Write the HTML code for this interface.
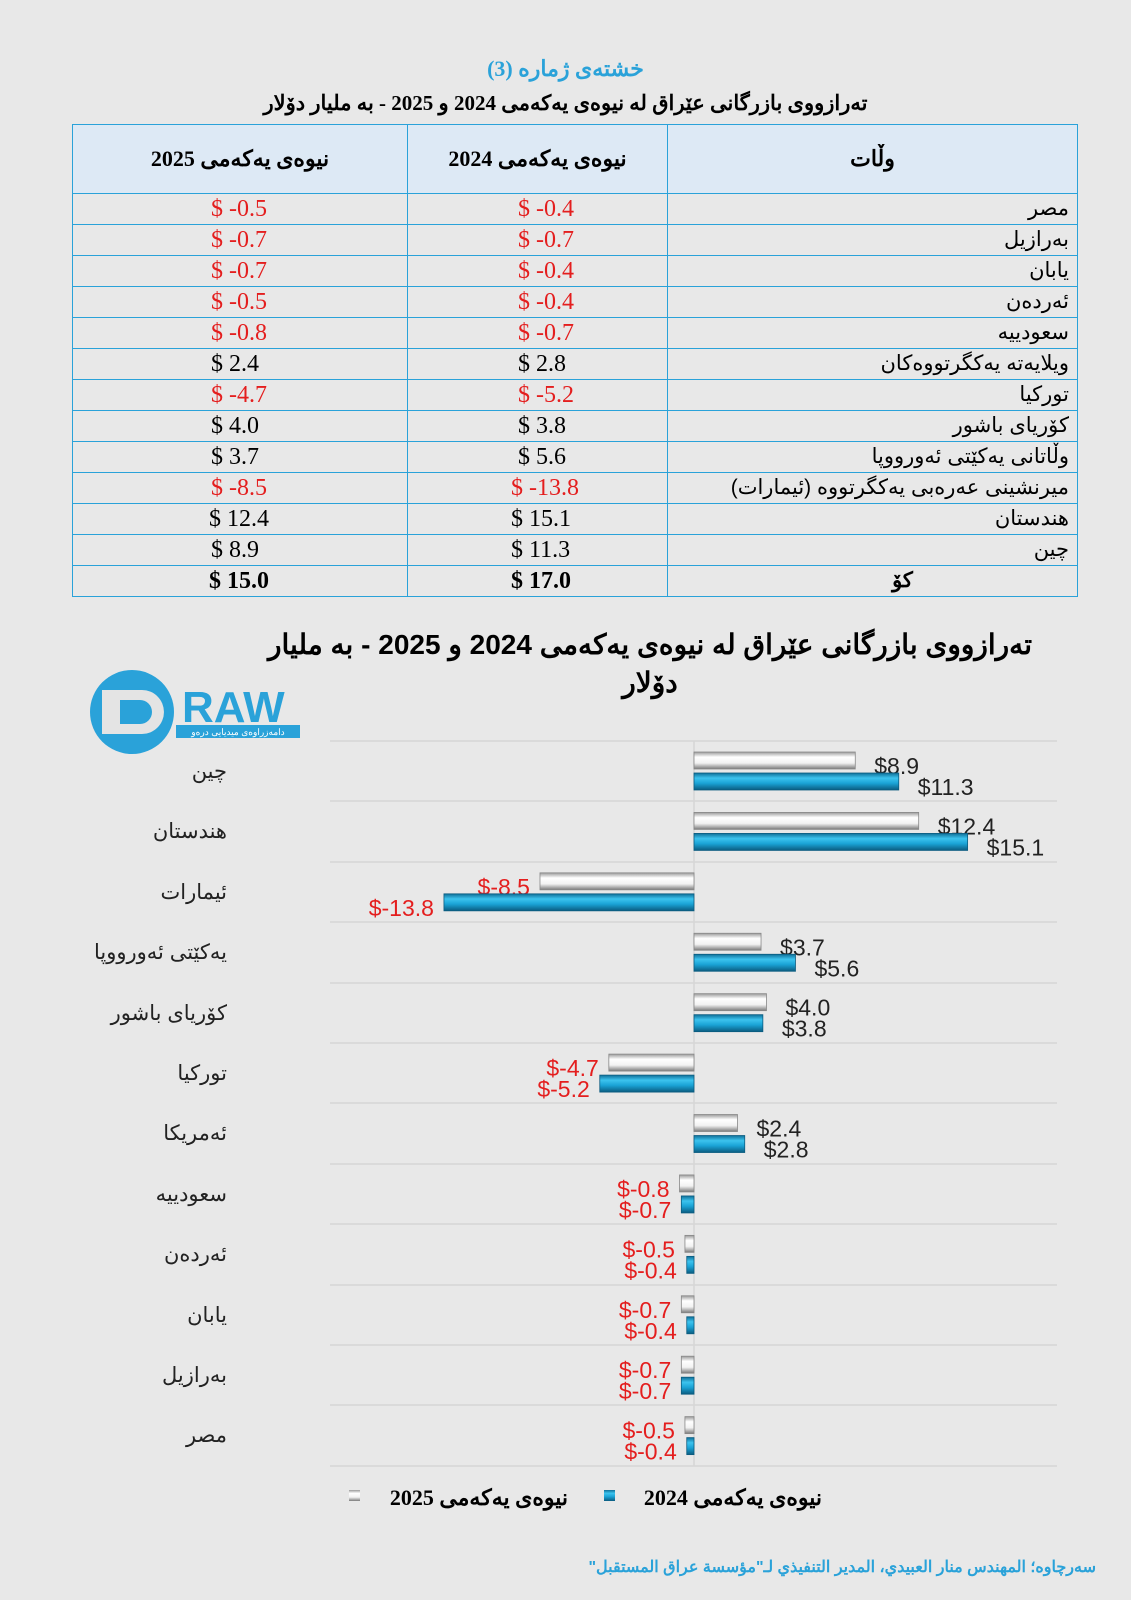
<!DOCTYPE html>
<html><head><meta charset="utf-8">
<style>
body{margin:0;width:1131px;height:1600px;background:#e8e8e8;position:relative;overflow:hidden;font-family:"Liberation Serif","Noto Sans CJK SC",serif}
.t1{position:absolute;left:0;width:1131px;top:56px;text-align:center;color:#2aa2d9;font-weight:bold;font-size:22px;direction:rtl}
.t2{position:absolute;left:0;width:1131px;top:91px;text-align:center;color:#000;font-weight:bold;font-size:21px;direction:rtl}
table{position:absolute;left:72px;top:124px;width:1005px;border-collapse:collapse;direction:rtl;table-layout:fixed}
td{border:1.5px solid #2aa2d9;padding:0;font-size:24px;height:30px;line-height:30px}
th{border:1.5px solid #2aa2d9;background:#dde9f5;height:66px;font-size:22px;font-weight:bold}
td.c{text-align:right;padding-right:8px;font-size:21px;font-family:"Liberation Sans","Noto Sans CJK SC",sans-serif}
td span{direction:ltr;unicode-bidi:bidi-override;display:inline-block}
td.v{text-align:left;padding-left:110px}
td.v2{text-align:left;padding-left:138px}
.r{color:#e41e1e}
</style></head><body>
<div class="t1">خشتەی ژمارە (3)</div>
<div class="t2">تەرازووی بازرگانی عێراق لە نیوەی یەکەمی 2024 و 2025 - بە ملیار دۆلار</div>
<table>
<colgroup><col style="width:410px"><col style="width:260px"><col style="width:335px"></colgroup>
<tr><th>وڵات</th><th>نیوەی یەکەمی 2024</th><th>نیوەی یەکەمی 2025</th></tr>
<tr><td class="c">مصر</td><td class="v r"><span>$ -0.4</span></td><td class="v2 r"><span>$ -0.5</span></td></tr>
<tr><td class="c">بەرازیل</td><td class="v r"><span>$ -0.7</span></td><td class="v2 r"><span>$ -0.7</span></td></tr>
<tr><td class="c">یابان</td><td class="v r"><span>$ -0.4</span></td><td class="v2 r"><span>$ -0.7</span></td></tr>
<tr><td class="c">ئەردەن</td><td class="v r"><span>$ -0.4</span></td><td class="v2 r"><span>$ -0.5</span></td></tr>
<tr><td class="c">سعودییە</td><td class="v r"><span>$ -0.7</span></td><td class="v2 r"><span>$ -0.8</span></td></tr>
<tr><td class="c">ویلایەتە یەکگرتووەکان</td><td class="v"><span>$ 2.8</span></td><td class="v2"><span>$ 2.4</span></td></tr>
<tr><td class="c">تورکیا</td><td class="v r"><span>$ -5.2</span></td><td class="v2 r"><span>$ -4.7</span></td></tr>
<tr><td class="c">کۆریای باشور</td><td class="v"><span>$ 3.8</span></td><td class="v2"><span>$ 4.0</span></td></tr>
<tr><td class="c">وڵاتانی یەکێتی ئەورووپا</td><td class="v"><span>$ 5.6</span></td><td class="v2"><span>$ 3.7</span></td></tr>
<tr><td class="c">میرنشینی عەرەبی یەکگرتووە (ئیمارات)</td><td class="v r" style="padding-left:103px"><span>$ -13.8</span></td><td class="v2 r"><span>$ -8.5</span></td></tr>
<tr><td class="c">هندستان</td><td class="v" style="padding-left:103px"><span>$ 15.1</span></td><td class="v2" style="padding-left:136px"><span>$ 12.4</span></td></tr>
<tr><td class="c">چین</td><td class="v" style="padding-left:103px"><span>$ 11.3</span></td><td class="v2"><span>$ 8.9</span></td></tr>
<tr><td class="c" style="text-align:center;font-weight:bold;padding:0 0 0 60px">کۆ</td><td class="v" style="padding-left:103px;font-weight:bold"><span>$ 17.0</span></td><td class="v2" style="padding-left:136px;font-weight:bold"><span>$ 15.0</span></td></tr>
</table>

<svg width="1131" height="1600" style="position:absolute;left:0;top:0" xmlns="http://www.w3.org/2000/svg">
<defs>
<linearGradient id="bl" x1="0" y1="0" x2="0" y2="1"><stop offset="0" stop-color="#0f6f98"/><stop offset="0.3" stop-color="#3cc3ee"/><stop offset="0.6" stop-color="#1aa3d6"/><stop offset="1" stop-color="#0b5c80"/></linearGradient>
<linearGradient id="wh" x1="0" y1="0" x2="0" y2="1"><stop offset="0" stop-color="#9a9a9a"/><stop offset="0.3" stop-color="#ffffff"/><stop offset="0.65" stop-color="#f2f2f2"/><stop offset="1" stop-color="#7a7a7a"/></linearGradient>
</defs>
<g font-family="Liberation Sans, Noto Sans CJK SC, sans-serif" font-weight="bold" font-size="28" text-anchor="middle">
<text x="650" y="654">تەرازووی بازرگانی عێراق لە نیوەی یەکەمی 2024 و 2025 - بە ملیار</text>
<text x="650" y="692">دۆلار</text>
</g>
<circle cx="132" cy="712" r="42" fill="#2aa2d9"/>
<path d="M102 690 h40 a22 22 0 0 1 0 44 h-40z" fill="#e4e4e4"/>
<path d="M120 700 h20 a12 12 0 0 1 0 24 h-20z" fill="#2aa2d9"/>
<text x="182" y="722" font-family="Liberation Sans,sans-serif" font-weight="bold" font-size="44" fill="#2aa2d9">RAW</text>
<rect x="176" y="725" width="124" height="13" fill="#2aa2d9"/>
<text x="238" y="735" font-size="9" fill="#fff" text-anchor="middle" font-family="Liberation Sans,sans-serif">دامەزراوەی میدیایی درەو</text>
<g stroke="#d6d6d6" stroke-width="1.5">
<line x1="330" x2="1057" y1="741" y2="741"/><line x1="330" x2="1057" y1="801" y2="801"/><line x1="330" x2="1057" y1="862" y2="862"/><line x1="330" x2="1057" y1="922" y2="922"/><line x1="330" x2="1057" y1="983" y2="983"/><line x1="330" x2="1057" y1="1043" y2="1043"/><line x1="330" x2="1057" y1="1103" y2="1103"/><line x1="330" x2="1057" y1="1164" y2="1164"/><line x1="330" x2="1057" y1="1224" y2="1224"/><line x1="330" x2="1057" y1="1285" y2="1285"/><line x1="330" x2="1057" y1="1345" y2="1345"/><line x1="330" x2="1057" y1="1405" y2="1405"/><line x1="330" x2="1057" y1="1466" y2="1466"/>
<line x1="694" x2="694" y1="741" y2="1466"/>
</g>
<g id="bars"></g>
<g font-family="Liberation Sans, Noto Sans CJK SC, sans-serif" font-size="21" text-anchor="end" fill="#222">
<text x="227" y="778">چین</text><text x="227" y="838">هندستان</text><text x="227" y="899">ئیمارات</text><text x="227" y="959">یەکێتی ئەورووپا</text><text x="227" y="1020">کۆریای باشور</text><text x="227" y="1080">تورکیا</text><text x="227" y="1140">ئەمریکا</text><text x="227" y="1201">سعودییە</text><text x="227" y="1261">ئەردەن</text><text x="227" y="1322">یابان</text><text x="227" y="1382">بەرازیل</text><text x="227" y="1442">مصر</text>
</g>
<rect x="349" y="1490" width="11" height="11" fill="url(#wh)"/>
<rect x="604" y="1490" width="11" height="11" fill="url(#bl)"/>
<g font-family="Liberation Serif, Noto Sans CJK SC, serif" font-weight="bold" font-size="22" text-anchor="end">
<text x="568" y="1505">نیوەی یەکەمی 2025</text>
<text x="822" y="1505">نیوەی یەکەمی 2024</text>
</g>
<text x="1096" y="1572" direction="rtl" text-anchor="start" font-family="Liberation Sans, sans-serif" font-weight="bold" font-size="16" fill="#2aa2d9">سەرچاوە؛ المهندس منار العبيدي، المدير التنفيذي لـ"مؤسسة عراق المستقبل"</text>
</svg>
<script>
var d=[[8.9,11.3],[12.4,15.1],[-8.5,-13.8],[3.7,5.6],[4.0,3.8],[-4.7,-5.2],[2.4,2.8],[-0.8,-0.7],[-0.5,-0.4],[-0.7,-0.4],[-0.7,-0.7],[-0.5,-0.4]];
var z=694,s=18.12,h="";
d.forEach(function(v,i){var g=741+60.42*i;
[[v[0],g+11,"wh"],[v[1],g+32,"bl"]].forEach(function(b){var val=b[0],y=b[1],w=Math.abs(val)*s,x=val<0?z-w:z;
h+='<rect x="'+x+'" y="'+y+'" width="'+Math.max(w,3)+'" height="17" fill="url(#'+b[2]+')" stroke="'+(b[2]=="bl"?"#0b5c80":"#888")+'" stroke-width="0.8"/>';
var t='$'+val.toFixed(1),col=val<0?"#e41e1e":"#222";
var a=' direction="ltr" unicode-bidi="bidi-override" font-family="Liberation Sans,sans-serif" font-size="23" fill="'+col+'"';
if(val<0)h+='<text x="'+(x-10)+'" y="'+(y+22)+'" text-anchor="end"'+a+'>'+t+'</text>';
else h+='<text x="'+(x+w+19)+'" y="'+(y+22)+'"'+a+'>'+t+'</text>';});});
document.getElementById("bars").innerHTML=h;
</script>
</body></html>
